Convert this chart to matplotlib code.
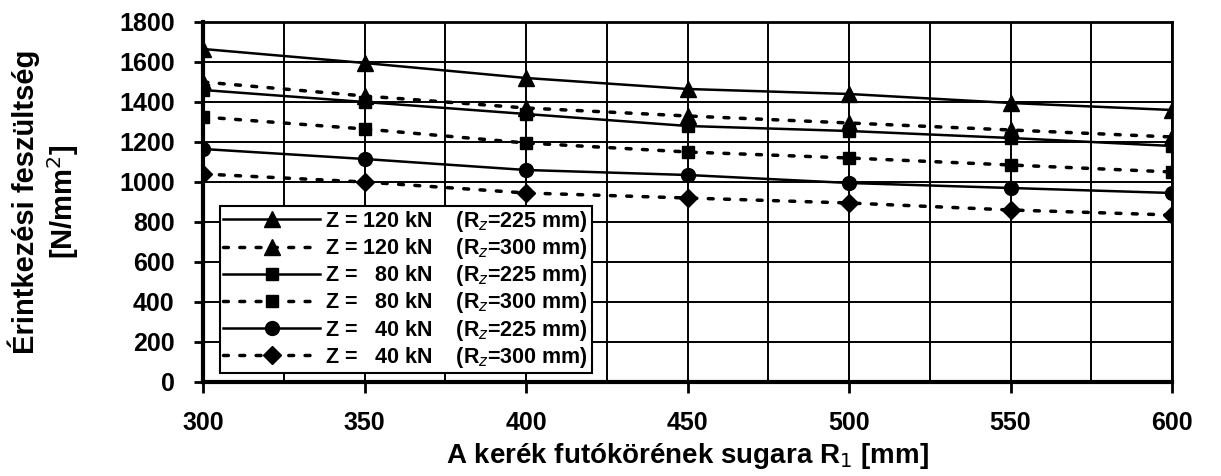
import matplotlib
matplotlib.use("Agg")
import matplotlib.pyplot as plt
from matplotlib.ticker import MultipleLocator

plt.rcParams["font.family"] = ["Liberation Sans", "DejaVu Sans"]

# wheel running-circle radius R1 [mm]
radius = [300, 350, 400, 450, 500, 550, 600]

# contact stress [N/mm2]
z120_r225 = [1665, 1595, 1520, 1465, 1440, 1395, 1360]
z120_r300 = [1500, 1430, 1370, 1330, 1295, 1260, 1225]
z80_r225 = [1460, 1400, 1340, 1280, 1255, 1220, 1180]
z80_r300 = [1325, 1265, 1195, 1150, 1120, 1085, 1050]
z40_r225 = [1165, 1115, 1060, 1035, 995, 970, 945]
z40_r300 = [1040, 1000, 945, 920, 895, 860, 835]

labels = [
    "Z = 120 kN    (R$_z$=225 mm)",
    "Z = 120 kN    (R$_z$=300 mm)",
    "Z =   80 kN    (R$_z$=225 mm)",
    "Z =   80 kN    (R$_z$=300 mm)",
    "Z =   40 kN    (R$_z$=225 mm)",
    "Z =   40 kN    (R$_z$=300 mm)",
]

fig = plt.figure(figsize=(12.21, 4.76), dpi=100)
ax = fig.add_axes([0.1663, 0.1975, 0.7936, 0.7563])

dotted = (0, (1.4, 3.3))
series = [
    (z120_r225, "-", "^", 11),
    (z120_r300, dotted, "^", 11),
    (z80_r225, "-", "s", 9),
    (z80_r300, dotted, "s", 9),
    (z40_r225, "-", "o", 10),
    (z40_r300, dotted, "D", 9),
]
for (vals, ls, mk, ms), lab in zip(series, labels):
    lw = 2.5 if ls != "-" else 1.8
    ax.plot(radius, vals, color="black", linestyle=ls, linewidth=lw,
            marker=mk, markersize=ms, markerfacecolor="black",
            markeredgecolor="black", dash_capstyle="round", label=lab)

ax.set_xlim(300, 600)
ax.set_ylim(0, 1800)
ax.xaxis.set_major_locator(MultipleLocator(50))
ax.xaxis.set_minor_locator(MultipleLocator(25))
ax.yaxis.set_major_locator(MultipleLocator(200))
ax.grid(True, which="both", color="black", linewidth=1.4)
ax.set_axisbelow(True)

for side in ["left", "bottom"]:
    ax.spines[side].set_linewidth(3)
for side in ["top", "right"]:
    ax.spines[side].set_linewidth(2)

ax.tick_params(axis="both", which="major", direction="out", width=2,
               labelsize=18)
ax.tick_params(axis="y", length=6.5, pad=14)
ax.tick_params(axis="x", length=8, pad=13)
ax.tick_params(axis="x", which="minor", length=0)
for t in ax.get_xticklabels() + ax.get_yticklabels():
    t.set_fontweight("bold")

ax.set_xlabel("A kerék futókörének sugara R$_1$ [mm]", fontsize=20,
              fontweight="bold", labelpad=4)
ax.set_ylabel("Érintkezési feszültség\n[N/mm$^2$]", fontsize=21,
              fontweight="bold", labelpad=27)

leg = ax.legend(loc="lower left", bbox_to_anchor=(0.0175, 0.025),
                borderaxespad=0, fancybox=False, framealpha=1,
                edgecolor="black", handlelength=4.5,
                labelspacing=0.1, borderpad=0.15, handletextpad=0.25,
                prop={"weight": "bold", "size": 15.5})
leg.get_frame().set_linewidth(1.5)

fig.savefig("out.png", dpi=100)
